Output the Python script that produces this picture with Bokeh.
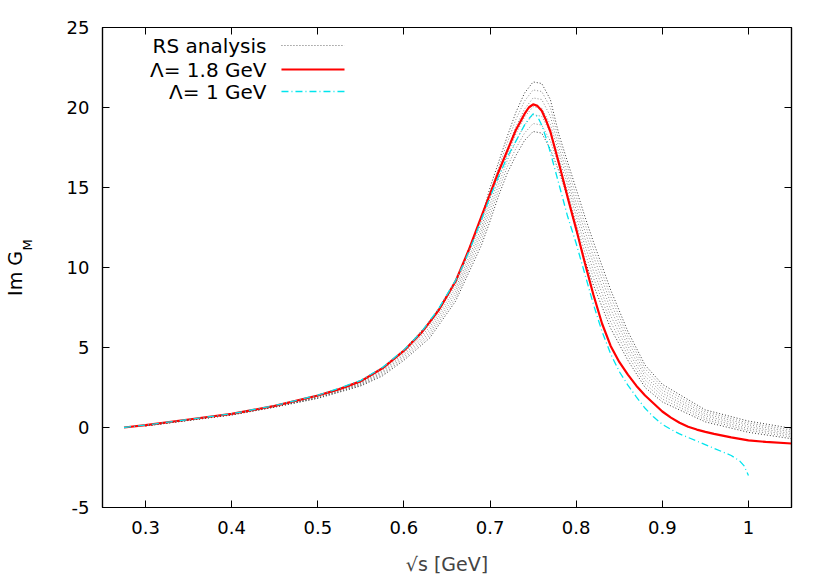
import math
from bokeh.plotting import figure
from bokeh.models import Range1d, FixedTicker, LinearAxis, Label, Arrow
from bokeh.embed import file_html
from bokeh.resources import INLINE

# ---------------- data ----------------
x_ticks = [0.3, 0.4, 0.5, 0.6, 0.7, 0.8, 0.9, 1.0]
x_tick_labels = ["0.3", "0.4", "0.5", "0.6", "0.7", "0.8", "0.9", "1"]
y_ticks = [-5, 0, 5, 10, 15, 20, 25]
y_tick_labels = ["-5", "0", "5", "10", "15", "20", "25"]

# Lambda = 1.8 GeV (red)
x_red = [0.275, 0.30, 0.35, 0.40, 0.45, 0.50, 0.525, 0.55, 0.575, 0.60, 0.62, 0.64,
         0.66, 0.675, 0.69, 0.70, 0.71, 0.72, 0.73, 0.74, 0.745, 0.75, 0.755, 0.76,
         0.765, 0.77, 0.78, 0.79, 0.80, 0.81, 0.82, 0.83, 0.84, 0.85, 0.86, 0.87,
         0.88, 0.89, 0.90, 0.91, 0.92, 0.93, 0.94, 0.95, 0.96, 0.98, 1.00, 1.02, 1.05]
y_red = [0.0, 0.15, 0.5, 0.85, 1.35, 2.0, 2.4, 2.9, 3.7, 4.8, 5.9, 7.3,
         9.15, 11.06, 13.2, 14.6, 16.0, 17.3, 18.6, 19.6, 20.0, 20.2, 20.1, 19.8,
         19.2, 18.5, 16.5, 14.4, 12.4, 10.3, 8.3, 6.5, 5.1, 4.1, 3.3, 2.6,
         2.0, 1.5, 1.0, 0.62, 0.3, 0.05, -0.13, -0.27, -0.4, -0.62, -0.8, -0.9, -1.0]

# Lambda = 1 GeV (cyan)
x_cyan = [0.275, 0.30, 0.35, 0.40, 0.45, 0.50, 0.525, 0.55, 0.575, 0.60, 0.62, 0.64,
          0.66, 0.67, 0.68, 0.69, 0.70, 0.71, 0.72, 0.73, 0.74, 0.745, 0.75, 0.755,
          0.76, 0.766, 0.77, 0.78, 0.79, 0.80, 0.81, 0.82, 0.83, 0.84, 0.85, 0.86,
          0.87, 0.88, 0.89, 0.90, 0.91, 0.92, 0.94, 0.96, 0.98, 0.99, 0.995, 1.00]
y_cyan = [0.0, 0.15, 0.5, 0.86, 1.37, 2.02, 2.45, 2.95, 3.75, 4.85, 5.95, 7.4,
          9.2, 10.3, 11.6, 13.0, 14.4, 15.7, 16.9, 17.9, 18.9, 19.3, 19.6, 19.45,
          18.9, 17.94, 17.2, 15.2, 13.2, 11.5, 9.6, 7.7, 6.0, 4.6, 3.5, 2.65,
          1.9, 1.2, 0.65, 0.2, -0.12, -0.4, -0.85, -1.3, -1.75, -2.1, -2.4, -3.0]

# RS analysis band (dotted lines)
x_rs = [0.30, 0.40, 0.45, 0.50, 0.55, 0.575, 0.60, 0.63, 0.66, 0.69, 0.70, 0.71, 0.72,
        0.73, 0.74, 0.75, 0.76, 0.77, 0.78, 0.79, 0.80, 0.81, 0.82, 0.84, 0.86, 0.88,
        0.90, 0.95, 1.00, 1.05]
rs_1 = [0.12, 0.83, 1.33, 1.92, 2.80, 3.70, 4.85, 6.60, 9.10, 13.1, 15.0, 16.6, 18.2,
        19.7, 20.9, 21.6, 21.5, 20.5, 18.3, 16.6, 14.9, 13.2, 11.6, 8.6, 6.0, 3.9,
        2.7, 1.1, 0.4, -0.05]
rs_2 = [0.11, 0.82, 1.32, 1.90, 2.77, 3.62, 4.74, 6.43, 8.9, 12.8, 14.65, 16.25, 17.8,
        19.25, 20.4, 21.1, 21.0, 20.0, 17.9, 16.25, 14.45, 12.75, 11.15, 8.2, 5.7, 3.67,
        2.52, 0.98, 0.28, -0.16]
rs_3 = [0.11, 0.81, 1.31, 1.89, 2.73, 3.54, 4.63, 6.27, 8.7, 12.5, 14.3, 15.9, 17.4,
        18.8, 19.9, 20.6, 20.5, 19.45, 17.5, 15.85, 14.0, 12.3, 10.7, 7.8, 5.4, 3.43,
        2.33, 0.85, 0.17, -0.27]
rs_4 = [0.11, 0.80, 1.30, 1.87, 2.70, 3.46, 4.53, 6.10, 8.5, 12.25, 13.95, 15.55, 17.05,
        18.35, 19.4, 20.05, 19.95, 18.95, 17.15, 15.5, 13.6, 11.85, 10.25, 7.4, 5.1, 3.2,
        2.15, 0.73, 0.05, -0.38]
rs_5 = [0.10, 0.80, 1.29, 1.85, 2.67, 3.38, 4.42, 5.93, 8.3, 12.0, 13.6, 15.2, 16.7,
        17.9, 18.9, 19.55, 19.45, 18.45, 16.8, 15.15, 13.2, 11.4, 9.8, 7.0, 4.8, 2.97,
        1.97, 0.6, -0.07, -0.48]
rs_6 = [0.10, 0.79, 1.28, 1.84, 2.63, 3.30, 4.31, 5.77, 8.1, 11.7, 13.25, 14.85, 16.3,
        17.45, 18.4, 19.0, 18.9, 17.9, 16.4, 14.75, 12.75, 10.95, 9.35, 6.6, 4.5, 2.73,
        1.78, 0.48, -0.18, -0.59]
rs_7 = [0.10, 0.78, 1.27, 1.82, 2.60, 3.22, 4.20, 5.60, 7.9, 11.4, 12.9, 14.5, 15.9,
        17.0, 17.94, 18.5, 18.4, 17.4, 16.0, 14.4, 12.3, 10.5, 8.9, 6.2, 4.2, 2.5,
        1.6, 0.35, -0.3, -0.7]
rs_lines = [rs_1, rs_2, rs_3, rs_4, rs_5, rs_6, rs_7]
rs_colors = ["#3a3a3a", "#8a8a8a", "#8a8a8a", "#8a8a8a", "#8a8a8a", "#8a8a8a", "#3a3a3a"]

legend_texts = ["RS analysis", "\u039b= 1.8 GeV", "\u039b= 1 GeV"]
NB = "\u00a0"
y_title_main = "Im G" + NB * 2          # trailing no-break spaces shift it down a little
y_title_sub = NB * 11 + "M"             # leading no-break spaces lift the subscript
x_title = "\u221as [GeV]"

# ---------------- figure ----------------
FONT = "DejaVu Sans"
p = figure(frame_width=689, frame_height=480,
           min_border_left=99, min_border_right=41, min_border_top=27, min_border_bottom=73,
           x_range=Range1d(0.25, 1.05), y_range=Range1d(-5, 25),
           output_backend="svg", toolbar_location=None,
           background_fill_color="white", border_fill_color="white")
p.outline_line_color = "black"
p.outline_line_width = 1.2
p.xgrid.visible = False
p.ygrid.visible = False

for axis in (p.xaxis[0], p.yaxis[0]):
    axis.axis_line_color = "black"
    axis.axis_line_width = 1.2
    axis.major_tick_in = 7
    axis.major_tick_out = 0
    axis.major_tick_line_color = "black"
    axis.minor_tick_line_color = None
    axis.major_label_text_font = FONT
    axis.major_label_text_font_size = "18px"
    axis.major_label_text_color = "black"
    axis.major_label_standoff = 13

p.xaxis[0].ticker = FixedTicker(ticks=x_ticks)
p.xaxis[0].major_label_overrides = {t: s for t, s in zip(x_ticks, x_tick_labels)}
p.yaxis[0].ticker = FixedTicker(ticks=y_ticks)
p.yaxis[0].major_label_overrides = {t: s for t, s in zip(y_ticks, y_tick_labels)}

p.xaxis[0].axis_label = x_title
p.xaxis[0].axis_label_text_font = FONT
p.xaxis[0].axis_label_text_font_size = "19px"
p.xaxis[0].axis_label_text_font_style = "normal"
p.xaxis[0].axis_label_standoff = 16

# y title "Im G_M": two tick-less axes carry the main text and the subscript
ax_sub = LinearAxis(ticker=FixedTicker(ticks=[]),
                    axis_line_color=None, major_tick_line_color=None, minor_tick_line_color=None,
                    major_tick_in=0, major_tick_out=0, major_label_standoff=0,
                    axis_label=y_title_sub, axis_label_standoff=29,
                    axis_label_text_font=FONT, axis_label_text_font_size="13px",
                    axis_label_text_font_style="normal", axis_label_text_color="black")
ax_main = LinearAxis(ticker=FixedTicker(ticks=[]),
                     axis_line_color=None, major_tick_line_color=None, minor_tick_line_color=None,
                     major_tick_in=0, major_tick_out=0, major_label_standoff=0,
                     axis_label=y_title_main, axis_label_standoff=-9,
                     axis_label_text_font=FONT, axis_label_text_font_size="19px",
                     axis_label_text_font_style="normal", axis_label_text_color="black")
p.add_layout(ax_sub, "left")
p.add_layout(ax_main, "left")

# mirrored ticks (right / top) like gnuplot
for side, tk in (("right", y_ticks), ("above", x_ticks)):
    ax = LinearAxis(ticker=FixedTicker(ticks=tk), major_tick_in=7, major_tick_out=0,
                    minor_tick_line_color=None, axis_line_color="black", axis_line_width=1.2,
                    major_label_text_color=None, major_label_standoff=0)
    p.add_layout(ax, side)

# ---------------- data lines ----------------
for ys, col in zip(rs_lines, rs_colors):
    p.line(x_rs, ys, line_color=col, line_width=1, line_dash="1 2")
p.line(x_red, y_red, line_color="#ff0000", line_width=2.2)
p.line(x_cyan, y_cyan, line_color="#00e5ee", line_width=1.3, line_dash="7 3 1 3")

# ---------------- legend (gnuplot style: text right-aligned, sample after) ----------------
leg_y = [23.875, 22.375, 21.0]
leg_styles = [dict(line_color="#6a6a6a", line_width=1, line_dash="1 2"),
              dict(line_color="#ff0000", line_width=2.2, line_dash="solid"),
              dict(line_color="#00e5ee", line_width=1.3, line_dash="7 3 1 3")]
for txt, yy, st in zip(legend_texts, leg_y, leg_styles):
    p.add_layout(Label(x=0.4404, y=yy, text=txt, text_align="right", text_baseline="middle",
                       text_font=FONT, text_font_size="20px", text_color="black"))
    p.add_layout(Arrow(end=None, x_start=0.4578, y_start=yy, x_end=0.531, y_end=yy, **st))

open("out.html", "w").write(file_html(p, INLINE))
